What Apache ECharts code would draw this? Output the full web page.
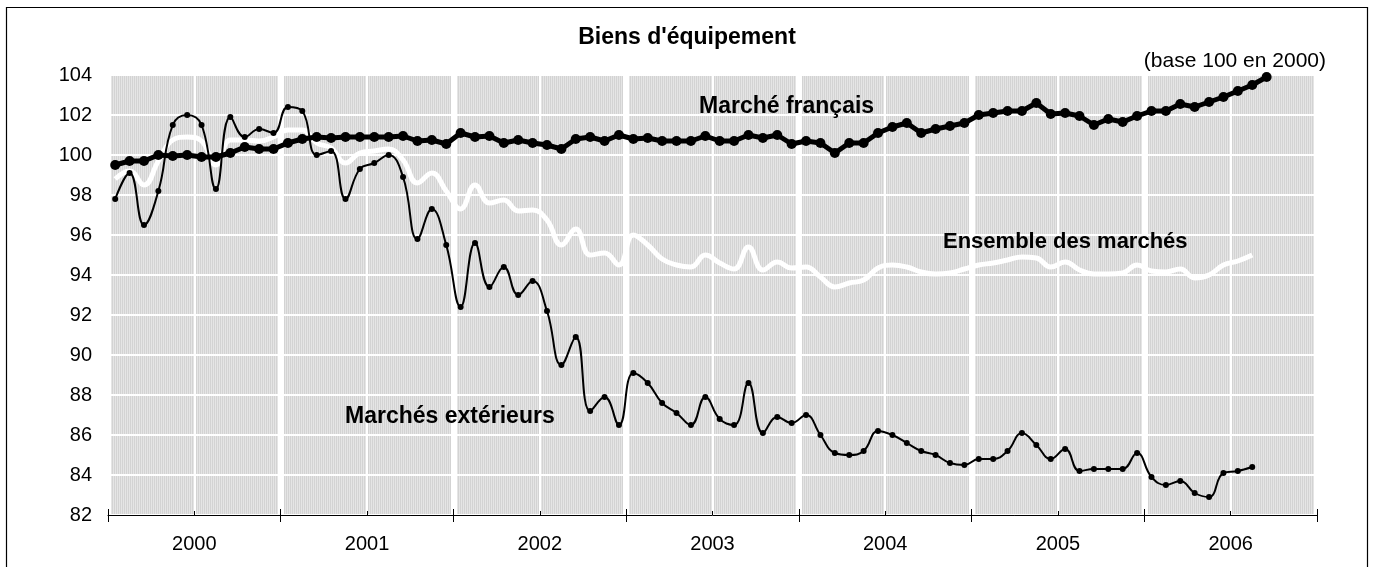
<!DOCTYPE html>
<html>
<head>
<meta charset="utf-8">
<title>Biens d'équipement</title>
<script src="https://cdn.jsdelivr.net/npm/echarts@6/dist/echarts.min.js"></script>
<style>
  html, body { margin: 0; padding: 0; background: #fff; }
  #chart { width: 1374px; height: 567px; }
</style>
</head>
<body>
<div id="chart"></div>
<script>
// ── données (indices mensuels, base 100 en 2000) ──
const years = ['2000', '2001', '2002', '2003', '2004', '2005', '2006'];

// Marché français : janv. 2000 → sept. 2006
const francais = [
  99.5, 99.7, 99.7, 100.0, 99.95, 100.0, 99.9, 99.9, 100.1, 100.4, 100.3, 100.3,
  100.6, 100.8, 100.9, 100.85, 100.9, 100.9, 100.9, 100.9, 100.95, 100.7, 100.75, 100.55,
  101.1, 100.9, 100.95, 100.6, 100.75, 100.6, 100.5, 100.3, 100.8, 100.9, 100.7, 101.0,
  100.8, 100.85, 100.7, 100.7, 100.7, 100.95, 100.7, 100.7, 101.0, 100.85, 101.0, 100.55,
  100.7, 100.6, 100.1, 100.6, 100.6, 101.1, 101.4, 101.6, 101.1, 101.3, 101.45, 101.6,
  102.0, 102.1, 102.2, 102.2, 102.6, 102.05, 102.1, 101.95, 101.5, 101.8, 101.65, 101.95,
  102.2, 102.2, 102.55, 102.4, 102.65, 102.9, 103.2, 103.5, 103.9
];

// Ensemble des marchés : janv. 2000 → août 2006
const ensemble = [
  98.8, 99.2, 98.5, 99.7, 100.75, 100.9, 100.7, 99.5, 100.75, 100.75, 100.7, 100.9,
  101.25, 101.25, 100.6, 100.35, 99.6, 100.1, 100.2, 100.3, 99.75, 98.6, 99.1, 98.2,
  97.3, 98.5, 97.6, 97.75, 97.2, 97.25, 96.75, 95.5, 96.3, 95.0, 95.1, 94.5,
  96.0, 95.5, 94.8, 94.5, 94.4, 95.0, 94.6, 94.3, 95.4, 94.25, 94.65, 94.35,
  94.4, 93.9, 93.4, 93.6, 93.75, 94.35, 94.5, 94.4, 94.15, 94.05, 94.1, 94.3,
  94.5, 94.6, 94.75, 94.9, 94.85, 94.4, 94.65, 94.25, 94.05, 94.05, 94.1, 94.5,
  94.2, 94.15, 94.3, 93.85, 94.0, 94.5, 94.7, 95.0
];

// Marchés extérieurs : janv. 2000 → août 2006
const exterieurs = [
  97.8, 99.1, 96.5, 98.2, 101.5, 102.0, 101.5, 98.3, 101.9, 100.9, 101.3, 101.1,
  102.4, 102.2, 100.0, 100.2, 97.8, 99.3, 99.6, 100.0, 98.9, 95.8, 97.3, 95.5,
  92.4, 95.6, 93.4, 94.4, 93.0, 93.7, 92.2, 89.5, 90.9, 87.2, 87.9, 86.5,
  89.1, 88.6, 87.6, 87.1, 86.5, 87.9, 86.8, 86.5, 88.6, 86.1, 86.9, 86.6,
  87.0, 86.0, 85.1, 85.0, 85.2, 86.2, 86.0, 85.6, 85.2, 85.0, 84.6, 84.5,
  84.8, 84.8, 85.2, 86.1, 85.5, 84.8, 85.3, 84.2, 84.3, 84.3, 84.3, 85.1,
  83.9, 83.5, 83.7, 83.1, 82.9, 84.1, 84.2, 84.4
];

const yMin = 82, yMax = 104, yStep = 2;
const monthsTotal = years.length * 12;

// point au milieu de chaque mois
const toPairs = arr => arr.map((v, i) => [i + 0.5, v]);

// ── fond hachuré (fines rayures verticales grises) ──
function hatchPattern() {
  const c = document.createElement('canvas');
  c.width = 2; c.height = 4;
  const ctx = c.getContext('2d');
  ctx.fillStyle = '#d3d3d3'; ctx.fillRect(0, 0, 1, 4);
  ctx.fillStyle = '#e5e5e5'; ctx.fillRect(1, 0, 1, 4);
  return { image: c, repeat: 'repeat' };
}

const FONT = '"Liberation Sans", Arial, sans-serif';
const chart = echarts.init(document.getElementById('chart'));

chart.setOption({
  animation: false,
  textStyle: { fontFamily: FONT, color: '#000' },
  grid: {
    left: 108, right: 57, top: 75, bottom: 52,
    show: true, backgroundColor: hatchPattern(), borderWidth: 0
  },
  xAxis: [
    {
      type: 'value', min: 0, max: monthsTotal, interval: 6, position: 'bottom',
      axisLine: { lineStyle: { color: '#000', width: 1 } },
      axisTick: { inside: true, length: 4, lineStyle: { color: '#000' } },
      axisLabel: {
        fontSize: 20, color: '#000', fontFamily: FONT, margin: 19,
        formatter: v => (v % 12 === 6 ? years[(v - 6) / 12] : '')
      },
      splitLine: { show: true, lineStyle: { color: '#fff', width: 2 } }
    },
    {
      // traits d'années (plus longs, de part et d'autre de l'axe)
      type: 'value', min: 0, max: monthsTotal, interval: 12, position: 'bottom', offset: -6,
      axisLine: { show: false },
      axisTick: { show: true, inside: false, length: 13, lineStyle: { color: '#000' } },
      axisLabel: { show: false },
      splitLine: { show: true, lineStyle: { color: '#fff', width: 6 } }
    }
  ],
  yAxis: {
    type: 'value', min: yMin, max: yMax, interval: yStep,
    axisLine: { show: false },
    axisTick: { show: false },
    axisLabel: { fontSize: 20, color: '#000', fontFamily: FONT, margin: 16 },
    splitLine: { show: true, lineStyle: { color: '#fff', width: 2 } }
  },
  graphic: [
    { type: 'rect', shape: { x: 6.5, y: 7.5, width: 1361, height: 566 },
      style: { fill: 'none', stroke: '#000', lineWidth: 1.2 }, silent: true, z: 100 },
    { type: 'text', left: 'center', top: 26, z: 100,
      style: { text: "Biens d'équipement", font: 'bold 23px ' + FONT, fill: '#000' } },
    { type: 'text', right: 48, top: 51, z: 100,
      style: { text: '(base 100 en 2000)', font: '21px ' + FONT, fill: '#000' } },
    { type: 'text', left: 699, top: 95, z: 100,
      style: { text: 'Marché français', font: 'bold 23px ' + FONT, fill: '#000' } },
    { type: 'text', left: 943, top: 231, z: 100,
      style: { text: 'Ensemble des marchés', font: 'bold 22px ' + FONT, fill: '#000' } },
    { type: 'text', left: 345, top: 405, z: 100,
      style: { text: 'Marchés extérieurs', font: 'bold 23px ' + FONT, fill: '#000' } }
  ],
  series: [
    {
      name: 'Ensemble des marchés', type: 'line', data: toPairs(ensemble),
      smooth: 0.45, showSymbol: false, symbol: 'none',
      lineStyle: { color: '#fff', width: 5 }, z: 2
    },
    {
      name: 'Marchés extérieurs', type: 'line', data: toPairs(exterieurs),
      smooth: 0.45, symbol: 'circle', symbolSize: 6,
      itemStyle: { color: '#000' },
      lineStyle: { color: '#000', width: 2 }, z: 3
    },
    {
      name: 'Marché français', type: 'line', data: toPairs(francais),
      smooth: false, symbol: 'circle', symbolSize: 10,
      itemStyle: { color: '#000' },
      lineStyle: { color: '#000', width: 5 }, z: 4
    }
  ]
});
</script>
</body>
</html>
